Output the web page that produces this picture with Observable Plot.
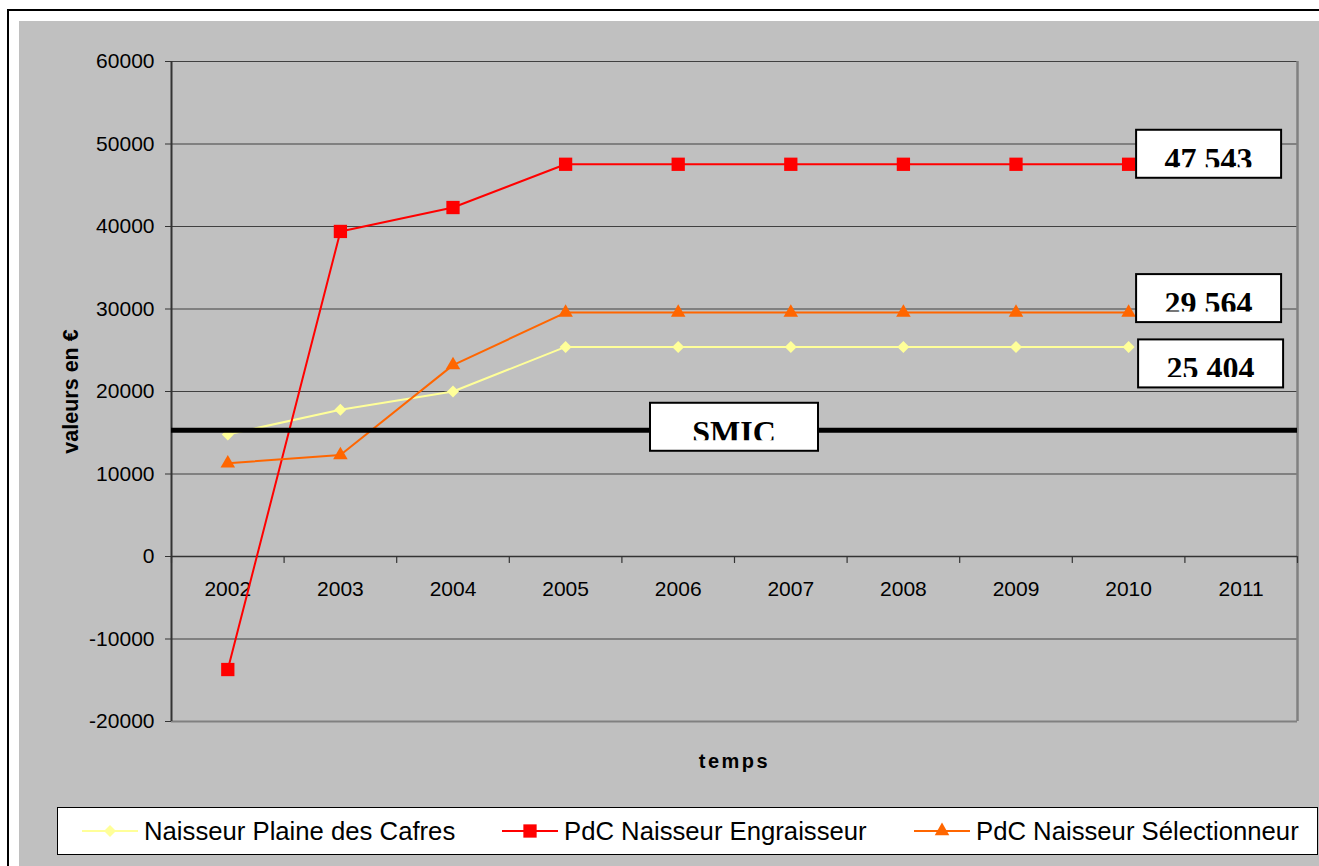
<!DOCTYPE html>
<html>
<head>
<meta charset="utf-8">
<script src="https://cdn.jsdelivr.net/npm/d3@7"></script>
<script src="https://cdn.jsdelivr.net/npm/@observablehq/plot@0.6"></script>
<style>
  html, body { margin: 0; padding: 0; background: #fff; }
  body { width: 1319px; height: 866px; overflow: hidden; position: relative; font-family: "Liberation Sans", Arial, sans-serif; }
  #frame { position: absolute; left: 7px; top: 9px; width: 1340px; height: 900px; border: 2px solid #000; background: #fff; }
  #area { position: absolute; left: 19px; top: 21px; width: 1320px; height: 860px; background: #c0c0c0; }
  #chart { position: absolute; left: 0; top: 0; }
  #legend { position: absolute; left: 57px; top: 807px; width: 1261px; height: 48px; box-sizing: border-box; background: #fff; border: 1px solid #000; }
  .item { position: absolute; top: 0; height: 100%; display: flex; align-items: center; font-size: 25.7px; color: #000; white-space: nowrap; }
  .item svg { margin-right: 6px; }
</style>
</head>
<body>
<div id="frame"></div>
<div id="area"></div>
<div id="chart"></div>
<div id="legend"></div>
<script>
// ---------- data ----------
const categories = [2002, 2003, 2004, 2005, 2006, 2007, 2008, 2009, 2010, 2011];
const seriesYears = [2002, 2003, 2004, 2005, 2006, 2007, 2008, 2009, 2010];
const seriesNames = ["Naisseur Plaine des Cafres", "PdC Naisseur Engraisseur", "PdC Naisseur Sélectionneur"];
const naisseurPlaine = [14800, 17800, 20000, 25404, 25404, 25404, 25404, 25404, 25404];
const pdcEngraisseur = [-13700, 39400, 42300, 47543, 47543, 47543, 47543, 47543, 47543];
const pdcSelectionneur = [11300, 12300, 23200, 29564, 29564, 29564, 29564, 29564, 29564];
const smicValue = 15300;
const smicLabel = "SMIC";
const yTicks = [-20000, -10000, 0, 10000, 20000, 30000, 40000, 50000, 60000];
const yLabel = "valeurs en €";
const xLabel = "temps";

// ---------- styles ----------
const colors = ["#ffff99", "#ff0000", "#ff6600"];
const symbols = ["diamond2", "square", "triangle"];
const radii = [5.4, 7.5, 5.4];

const seriesValues = [naisseurPlaine, pdcEngraisseur, pdcSelectionneur];
const rows = seriesNames.flatMap((name, s) =>
  seriesYears.map((year, i) => ({series: name, year, value: seriesValues[s][i]})));
const boundaries = [...categories.map(c => c - 0.5), categories[categories.length - 1] + 0.5];
const xDomain = [boundaries[0], boundaries[boundaries.length - 1]];
const lastYear = seriesYears[seriesYears.length - 1];
const endValues = [pdcEngraisseur, pdcSelectionneur, naisseurPlaine].map(a => a[a.length - 1]);
const fmt = v => d3.format(",")(v).replace(/,/g, " ");

// label box layout (pixels)
const boxDy = [-10, -14, 17];
const boxDx = [80.5, 80.5, 82.5];

function labelBoxes(index, scales) {
  const g = d3.create("svg:g");
  let uid = 0;
  function box(cx, cy, w, h, text) {
    const x0 = cx - w / 2, y0 = cy - h / 2;
    const id = "clipbox" + (uid++);
    g.append("clipPath").attr("id", id)
      .append("rect").attr("x", x0 + 2).attr("y", y0 + 2).attr("width", w - 4).attr("height", h - 12.5);
    g.append("rect").attr("x", x0).attr("y", y0).attr("width", w).attr("height", h)
      .attr("fill", "#fff").attr("stroke", "#000").attr("stroke-width", 2);
    g.append("text").attr("x", cx).attr("y", y0 + h - 8)
      .attr("text-anchor", "middle").attr("clip-path", `url(#${id})`)
      .attr("font-family", "'Liberation Serif', 'Times New Roman', serif")
      .attr("font-weight", "bold").attr("font-size", 32).attr("fill", "#000")
      .text(text);
  }
  endValues.forEach((v, i) => {
    box(scales.x(lastYear) + boxDx[i], scales.y(v) + boxDy[i], 145, 48, fmt(v));
  });
  const cx = (scales.x(xDomain[0]) + scales.x(xDomain[1])) / 2;
  box(cx, scales.y(smicValue) - 3, 168, 48, smicLabel);
  return g.node();
}

const tickShape = {draw(context, l) { context.moveTo(0, 0); context.lineTo(0, -l); }};

const plot = Plot.plot({
  width: 1319,
  height: 866,
  marginTop: 61,
  marginBottom: 145,
  marginLeft: 171,
  marginRight: 22,
  style: {background: "transparent", fontFamily: "'Liberation Sans', Arial, sans-serif", color: "#000", overflow: "visible"},
  x: {type: "linear", domain: xDomain, axis: null},
  y: {domain: [yTicks[0], yTicks[yTicks.length - 1]], axis: null},
  color: {domain: seriesNames, range: colors},
  marks: [
    Plot.ruleY(yTicks.slice(1), {stroke: "#404040", strokeWidth: 1}),
    Plot.ruleY([yTicks[0]], {stroke: "#808080", strokeWidth: 2}),
    Plot.ruleX([xDomain[1]], {stroke: "#808080", strokeWidth: 2.5}),
    Plot.ruleY([0], {stroke: "#333", strokeWidth: 1.5}),
    Plot.ruleX([xDomain[0]], {stroke: "#333", strokeWidth: 2}),
    Plot.axisY(yTicks, {tickSize: 6, tickPadding: 11, tickFormat: d => String(d), fontSize: 21, label: null, stroke: "#333", fill: "#000"}),
    Plot.vector(boundaries, {x: d => d, y: 0, length: 6, rotate: 180, anchor: "start", stroke: "#333", strokeWidth: 1.2, shape: tickShape}),
    Plot.text(categories, {x: d => d, y: 0, text: d => String(d), dy: 39, lineAnchor: "bottom", fontSize: 21, fill: "#000"}),
    Plot.line(rows, {x: "year", y: "value", z: "series", stroke: "series", strokeWidth: 2}),
    ...seriesNames.map((name, s) =>
      Plot.dot(rows.filter(d => d.series === name), {x: "year", y: "value", fill: colors[s], stroke: null, symbol: symbols[s], r: radii[s]})),
    Plot.ruleY([smicValue], {stroke: "#000", strokeWidth: 5}),
    labelBoxes,
    Plot.text([yLabel], {frameAnchor: "left", textAnchor: "middle", rotate: -90, dx: -94, lineAnchor: "bottom", fontSize: 21.5, fontWeight: "bold", fill: "#000"}),
    Plot.text([xLabel], {frameAnchor: "bottom", textAnchor: "middle", dy: 46, lineAnchor: "bottom", fontSize: 20, fontWeight: "bold", fill: "#000"})
  ]
});
document.getElementById("chart").appendChild(plot);
d3.select(plot).selectAll("text").filter(function() { return this.textContent === xLabel; })
  .attr("letter-spacing", "2.5px");

// ---------- legend ----------
const legend = d3.select("#legend");
const itemLeft = [24, 444, 856];
seriesNames.forEach((name, s) => {
  const item = legend.append("div").attr("class", "item").style("left", itemLeft[s] + "px");
  const sw = item.append("svg").attr("width", 56).attr("height", 20);
  sw.append("line").attr("x1", 0).attr("x2", 56).attr("y1", 10).attr("y2", 10)
    .attr("stroke", colors[s]).attr("stroke-width", 2);
  const symMap = {diamond2: d3.symbolDiamond2, square: d3.symbolSquare, triangle: d3.symbolTriangle};
  sw.append("path").attr("transform", "translate(28,10)")
    .attr("d", d3.symbol(symMap[symbols[s]], Math.PI * radii[s] * radii[s])())
    .attr("fill", colors[s]);
  item.append("span").text(name);
});
</script>
</body>
</html>
